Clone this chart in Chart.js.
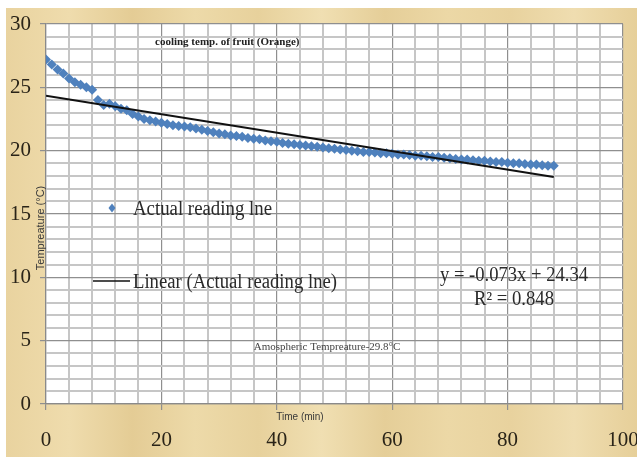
<!DOCTYPE html>
<html>
<head>
<meta charset="utf-8">
<script src="https://cdn.jsdelivr.net/npm/chart.js@4.4.1/dist/chart.umd.min.js"></script>
<style>
  html, body { margin: 0; padding: 0; background: #ffffff; }
  #wrap { width: 637px; height: 457px; }
</style>
</head>
<body>
<div id="wrap"><canvas id="coolingChart" width="637" height="457"></canvas></div>
<script>
// time in minutes
const timeMin = [
    0, 1, 2, 3, 4, 5, 6, 7, 8, 9, 10, 11, 12, 13, 14, 15, 16, 17, 18, 19, 20, 21, 22,
    23, 24, 25, 26, 27, 28, 29, 30, 31, 32, 33, 34, 35, 36, 37, 38, 39, 40, 41, 42, 43, 44,
    45, 46, 47, 48, 49, 50, 51, 52, 53, 54, 55, 56, 57, 58, 59, 60, 61, 62, 63, 64, 65, 66,
    67, 68, 69, 70, 71, 72, 73, 74, 75, 76, 77, 78, 79, 80, 81, 82, 83, 84, 85, 86, 87, 88
];
// fruit temperature (°C)
const tempReading = [
    27.2, 26.8, 26.4, 26.1, 25.7, 25.4, 25.2, 25.0, 24.8, 24.0, 23.6, 23.7, 23.5, 23.3, 23.2, 22.9, 22.7, 22.5, 22.4, 22.3, 22.2, 22.1, 22.0,
    21.95, 21.9, 21.85, 21.75, 21.65, 21.55, 21.45, 21.35, 21.3, 21.2, 21.15, 21.1, 21.0, 20.95, 20.9, 20.8, 20.75, 20.7, 20.6, 20.55, 20.5, 20.45,
    20.4, 20.35, 20.3, 20.25, 20.2, 20.15, 20.1, 20.05, 20.0, 19.95, 19.9, 19.9, 19.85, 19.8, 19.8, 19.75, 19.7, 19.7, 19.65, 19.6, 19.6, 19.55,
    19.5, 19.5, 19.45, 19.4, 19.35, 19.3, 19.3, 19.25, 19.2, 19.2, 19.15, 19.1, 19.1, 19.05, 19.0, 19.0, 18.95, 18.9, 18.9, 18.85, 18.8, 18.8
];
// trendline from the equation on the chart
const trendSlope = -0.073;
const trendIntercept = 24.34;
const trendRange = [0, 88];

const yTickLabels = [0, 5, 10, 15, 20, 25, 30];
const xTickLabels = [0, 20, 40, 60, 80, 100];

const readingPoints = timeMin.map((t, i) => ({ x: t, y: tempReading[i] }));
const trendPoints = trendRange.map(t => ({ x: t, y: trendIntercept + trendSlope * t }));

const blue = '#4f81bd';
const serif = "'Liberation Serif', 'DejaVu Serif', serif";
const sans = "'Liberation Sans', Arial, sans-serif";

// wood-ish background + white plot area
const backdrop = {
    id: 'backdrop',
    beforeDraw(chart) {
        const { ctx, chartArea: a, width, height } = chart;
        ctx.save();
        ctx.fillStyle = '#ffffff';
        ctx.fillRect(0, 0, width, height);
        const g = ctx.createLinearGradient(6, 0, width, 0);
        const tones = ['#e9d39f', '#efdcad', '#e4cc95', '#eddaa9', '#e7d19c', '#f0dfb2', '#e5ce98', '#ecd8a6', '#e8d29e', '#efddb0', '#e6cf99'];
        tones.forEach((c, i) => g.addColorStop(i / (tones.length - 1), c));
        ctx.fillStyle = g;
        ctx.fillRect(6, 8, width - 6, height - 8);
        ctx.fillStyle = '#ffffff';
        ctx.fillRect(a.left, a.top, a.right - a.left, a.bottom - a.top);
        ctx.restore();
    }
};

// titles, legend and notes drawn over the plot
const annotations = {
    id: 'annotations',
    afterDraw(chart) {
        const { ctx } = chart;
        ctx.save();
        ctx.textBaseline = 'middle';

        ctx.fillStyle = '#222222';
        ctx.font = 'bold 11px ' + serif;
        ctx.textAlign = 'left';
        ctx.fillText('cooling temp. of fruit (Orange)', 155, 42, 148);

        // legend
        ctx.fillStyle = blue;
        ctx.beginPath();
        ctx.moveTo(112, 203.5);
        ctx.lineTo(115.5, 208);
        ctx.lineTo(112, 212.5);
        ctx.lineTo(108.5, 208);
        ctx.closePath();
        ctx.fill();
        ctx.fillStyle = '#2a2a2a';
        ctx.font = '20px ' + serif;
        ctx.fillText('Actual reading lne', 133, 210, 139);

        ctx.strokeStyle = '#111111';
        ctx.lineWidth = 1.5;
        ctx.beginPath();
        ctx.moveTo(93, 281);
        ctx.lineTo(130, 281);
        ctx.stroke();
        ctx.fillText('Linear (Actual reading lne)', 133, 283, 204);

        // equation
        ctx.textAlign = 'center';
        ctx.fillText('y = -0.073x + 24.34', 514, 276, 148);
        ctx.fillText('R² = 0.848', 514, 300, 80);

        // note
        ctx.fillStyle = '#444444';
        ctx.font = '11px ' + serif;
        ctx.fillText('Amospheric Tempreature-29.8°C', 327, 347, 148);

        // axis titles
        ctx.fillStyle = '#3a3a3a';
        ctx.font = '10px ' + sans;
        ctx.fillText('Time (min)', 300, 417, 48);
        ctx.translate(41, 228);
        ctx.rotate(-Math.PI / 2);
        ctx.font = '11px ' + sans;
        ctx.fillText('Tempreature (°C)', 0, 0, 103);
        ctx.restore();
    }
};

new Chart(document.getElementById('coolingChart').getContext('2d'), {
    type: 'scatter',
    data: {
        datasets: [{
            label: 'Linear (Actual reading lne)',
            type: 'line',
            data: trendPoints,
            borderColor: '#111111',
            borderWidth: 2,
            pointRadius: 0,
            fill: false,
            order: 0
        }, {
            label: 'Actual reading lne',
            data: readingPoints,
            pointStyle: 'rectRot',
            pointRadius: 5,
            backgroundColor: blue,
            borderColor: blue,
            borderWidth: 0,
            order: 1
        }]
    },
    options: {
        responsive: false,
        animation: false,
        layout: { padding: { left: 0, top: 24, right: 14, bottom: 0 } },
        plugins: {
            legend: { display: false },
            tooltip: { enabled: false },
            title: { display: false }
        },
        scales: {
            x: {
                type: 'linear',
                min: 0,
                max: 100,
                afterFit: s => { s.height = 53; s.paddingLeft = 0; s.paddingRight = 0; },
                border: { display: true, color: '#8a8a8a', width: 1.2 },
                grid: {
                    color: c => (xTickLabels.includes(c.tick.value) ? '#8f8f8f' : '#c6c6c6'),
                    lineWidth: c => (xTickLabels.includes(c.tick.value) ? 1.2 : 2),
                    tickLength: 6,
                    tickColor: c => (xTickLabels.includes(c.tick.value) ? '#8f8f8f' : 'rgba(0,0,0,0)')
                },
                ticks: {
                    stepSize: 4,
                    padding: 18,
                    color: '#2a2418',
                    font: { family: serif, size: 21 },
                    maxRotation: 0,
                    autoSkip: false,
                    callback: v => (xTickLabels.includes(v) ? String(v) : '')
                }
            },
            y: {
                min: 0,
                max: 30,
                afterFit: s => { s.width = 46; s.paddingTop = 0; s.paddingBottom = 0; },
                border: { display: true, color: '#8a8a8a', width: 1.2 },
                grid: {
                    color: c => (yTickLabels.includes(c.tick.value) ? '#8f8f8f' : '#c6c6c6'),
                    lineWidth: c => (yTickLabels.includes(c.tick.value) ? 1.2 : 2),
                    tickLength: 6,
                    tickColor: c => (yTickLabels.includes(c.tick.value) ? '#8f8f8f' : 'rgba(0,0,0,0)')
                },
                ticks: {
                    stepSize: 1,
                    padding: 9,
                    color: '#2a2418',
                    font: { family: serif, size: 21 },
                    autoSkip: false,
                    callback: v => (yTickLabels.includes(v) ? String(v) : '')
                }
            }
        }
    },
    plugins: [backdrop, annotations]
});
</script>
</body>
</html>
